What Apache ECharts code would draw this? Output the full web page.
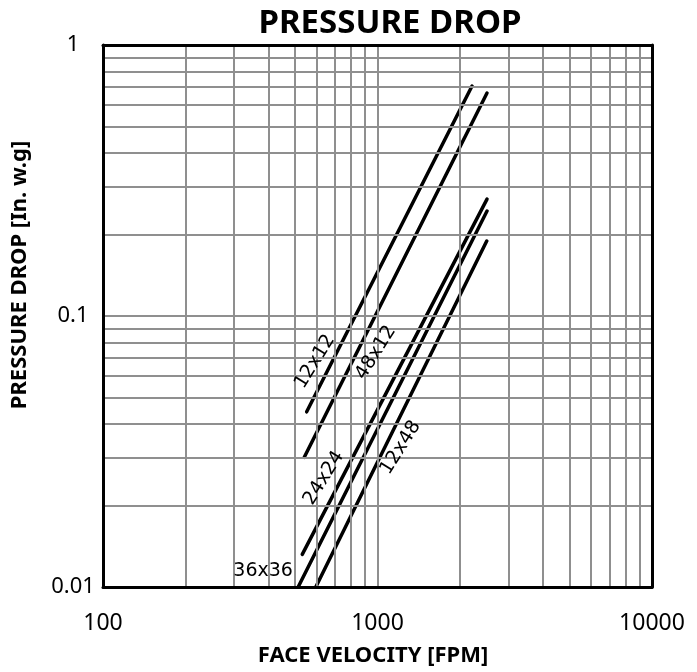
<!DOCTYPE html>
<html>
<head>
<meta charset="utf-8">
<title>Pressure Drop</title>
<script src="https://cdn.jsdelivr.net/npm/echarts@6/dist/echarts.min.js"></script>
<style>
html, body { margin: 0; padding: 0; background: #fff; }
#chart { width: 697px; height: 672px; }
</style>
</head>
<body>
<div id="chart"></div>
<script>
// filter sizes, each drawn as a straight line between two read points
var sizes = ['12x12', '48x12', '24x24', '36x36', '12x48']
// face velocity [FPM] at the low and high end of each line
var velocity = [
  [552, 2210],
  [541, 2506],
  [532, 2506],
  [514, 2506],
  [596, 2500]
]
// pressure drop [in. w.g] at the same ends
var pressure = [
  [0.0443, 0.706],
  [0.0301, 0.665],
  [0.0132, 0.270],
  [0.0100, 0.244],
  [0.0100, 0.189]
]
// where each size label sits, in data units
var labelVelocity = [592, 987, 638, 383, 1215]
var labelPressure = [0.0678, 0.0732, 0.0252, 0.01146, 0.0327]
var labelAngle = [58, 58, 58, 0, 58]

// log grid lines
var gridX = [200, 300, 400, 500, 600, 700, 800, 900, 1000, 2000, 3000, 4000, 5000, 6000, 7000, 8000, 9000]
var gridY = [0.02, 0.03, 0.04, 0.05, 0.06, 0.07, 0.08, 0.09, 0.1, 0.2, 0.3, 0.4, 0.5, 0.6, 0.7, 0.8, 0.9]

var myChart = echarts.init(document.getElementById('chart'))

var gridLine = { color: '#8f8f8f', width: 2, type: 'solid' }
var frame = { show: true, onZero: false, lineStyle: { color: '#000', width: 3 } }

function logAxis (min, max, pos, showLabel, fmt) {
  return {
    type: 'log',
    logBase: 10,
    min: min,
    max: max,
    position: pos,
    z: 10,
    axisLine: frame,
    axisTick: { show: false },
    splitLine: { show: false },
    axisLabel: {
      show: showLabel,
      formatter: fmt,
      color: '#000',
      fontFamily: 'Noto Sans',
      fontSize: 23
    }
  }
}

var xLabel = function (v) { return String(Math.round(v)) }
var yLabel = function (v) { return String(+v.toPrecision(3)) }

var xLeft = logAxis(100, 10000, 'bottom', true, xLabel)
xLeft.axisLabel.margin = 25
var yLeft = logAxis(0.01, 1, 'left', true, yLabel)
yLeft.axisLabel.margin = 30
yLeft.axisLabel.align = 'center'
yLeft.axisLabel.fontSize = 22

var series = [{
  type: 'line',
  data: [],
  z: 1,
  silent: true,
  markLine: {
    silent: true,
    symbol: 'none',
    label: { show: false },
    lineStyle: gridLine,
    animation: false,
    data: gridX.map(function (v) { return { xAxis: v } })
      .concat(gridY.map(function (v) { return { yAxis: v } }))
  }
}]

sizes.forEach(function (name, i) {
  series.push({
    name: name,
    type: 'line',
    z: 3,
    symbol: 'none',
    data: velocity[i].map(function (v, j) { return [v, pressure[i][j]] }),
    lineStyle: { color: '#000', width: 3.5, cap: 'round' }
  })
})

var option = {
  animation: false,
  grid: { left: 103, top: 45, right: 45, bottom: 85, containLabel: false },
  xAxis: [xLeft, logAxis(100, 10000, 'top', false)],
  yAxis: [yLeft, logAxis(0.01, 1, 'right', false)],
  series: series
}
myChart.setOption(option)

var text = [
  {
    type: 'text', x: 390, y: 24, z: 20,
    style: { text: 'PRESSURE DROP', font: 'bold 33px "Noto Sans"', fill: '#000', align: 'center', verticalAlign: 'middle' }
  },
  {
    type: 'text', x: 373, y: 656, z: 20,
    style: { text: 'FACE VELOCITY [FPM]', font: 'bold 22px "Noto Sans"', fill: '#000', align: 'center', verticalAlign: 'middle' }
  },
  {
    type: 'text', x: 20, y: 275, z: 20, rotation: Math.PI / 2,
    style: { text: 'PRESSURE DROP [In. w.g]', font: 'bold 22px "Noto Sans"', fill: '#000', align: 'center', verticalAlign: 'middle' }
  }
]
sizes.forEach(function (name, i) {
  var p = myChart.convertToPixel({ gridIndex: 0 }, [labelVelocity[i], labelPressure[i]])
  text.push({
    type: 'text', x: p[0], y: p[1], z: 20,
    rotation: labelAngle[i] * Math.PI / 180,
    style: { text: name, font: '19px "DejaVu Sans"', fill: '#000', align: 'center', verticalAlign: 'middle' }
  })
})
myChart.setOption({ graphic: text })
</script>
</body>
</html>
